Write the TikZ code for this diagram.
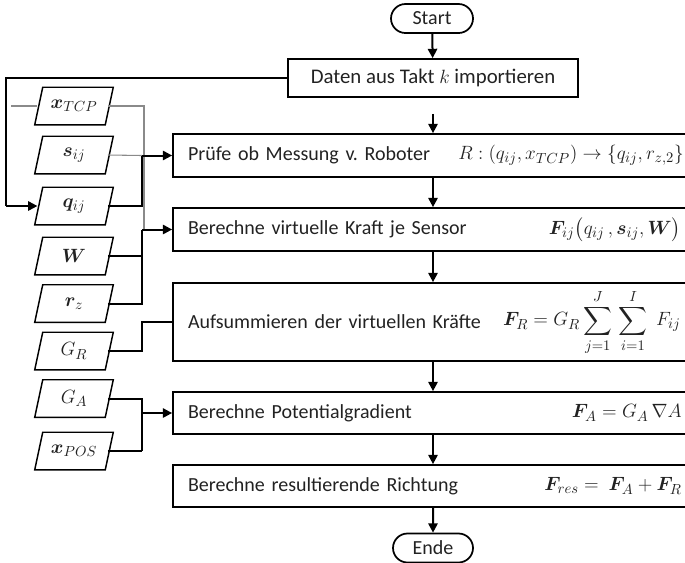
\documentclass[tikz,border=0pt]{standalone}
\usepackage{amsmath,amssymb,bm}
\usepackage[no-math]{fontspec}
\setmainfont{Carlito}
\usetikzlibrary{arrows.meta,shapes.misc}
\definecolor{ink}{HTML}{222222}
\definecolor{wire}{HTML}{8A8A8A}
\frenchspacing
% slanted outline around an input node
\newcommand\slantbox[1]{%
  \draw[line width=1.1pt] ([xshift=-3pt]#1.south west) -- ([xshift=3pt]#1.north west)
    -- ([xshift=3pt]#1.north east) -- ([xshift=-3pt]#1.south east) -- cycle;}
\begin{document}
\begin{tikzpicture}[x=0.75pt,y=-0.75pt,
  font=\fontsize{15}{18}\selectfont, text=ink,
  stepbox/.style={draw, line width=1.3pt, inner xsep=11.25pt,
    text width=365.25pt, align=left, anchor=center},
  term/.style={draw, line width=1.3pt, rounded rectangle,
    minimum height=21.75pt, inner sep=0pt},
  inbox/.style={minimum width=52.5pt, minimum height=27.75pt, inner sep=0pt},
  flow/.style={line width=1.5pt, -{Triangle[length=7pt,width=7pt]}},
  bus/.style={line width=1.5pt},
  busarrow/.style={line width=1.5pt, -{Triangle[length=7pt,width=7pt]}},
  thin/.style={line width=0.8pt, draw=wire}]
\useasboundingbox (0,0) rectangle (685,562);
\clip (0,0) rectangle (685,562);

% terminals and process steps
\node[term, minimum width=61.5pt] (start) at (432,18.5) {Start};
\node[draw, line width=1.3pt, minimum width=217.5pt, minimum height=28.5pt,
  font=\fontsize{15.6}{18}\selectfont] (daten) at (433,78) {Daten aus Takt $k$ importieren};
\node[stepbox, minimum height=32.25pt] (pruefe) at (431.5,155.5) {Prüfe ob Messung v. Roboter};
\node[stepbox, minimum height=32.25pt] (kraft) at (431.5,229.5) {Berechne virtuelle Kraft je Sensor};
\node[stepbox, minimum height=58.5pt] (summe) at (431.5,322) {Aufsummieren der virtuellen Kräfte};
\node[stepbox, minimum height=31.5pt] (potential) at (431.5,413) {Berechne Potentialgradient};
\node[stepbox, minimum height=31.5pt] (richtung) at (431.5,486) {Berechne resultierende Richtung};
\node[term, minimum width=60pt] (ende) at (433,548) {Ende};

% formulas inside the steps
\node[anchor=west, inner sep=0pt] (f1) at (458,155.5) {$R:\left(q_{ij},x_{TCP}\right)\rightarrow\{q_{ij},r_{z,2}\}$};
\node[anchor=east, inner sep=0pt] (f2) at (681,229.5) {$\bm{F}_{ij}\bigl(q_{ij}\,,\bm{s}_{ij},\bm{W}\bigr)$};
\node[anchor=east, inner sep=0pt] (f3) at (681,322) {$\displaystyle \bm{F}_R=G_R\sum_{j=1}^{J}\,\sum_{i=1}^{I}\;F_{ij}$};
\node[anchor=east, inner sep=0pt] (f4) at (682,413) {$\bm{F}_A=G_A\,\nabla A$};
\node[anchor=east, inner sep=0pt] (f5) at (682,486) {$\bm{F}_{res}=\ \bm{F}_A+\bm{F}_R$};

% input parameters
\node[inbox] (xtcp) at (74,106) {$\bm{x}_{TCP}$};
\node[inbox] (sij) at (74,155) {$\bm{s}_{ij}$};
\node[inbox] (qij) at (74,206) {$\bm{q}_{ij}$};
\node[inbox] (w) at (74,256) {$\bm{W}$};
\node[inbox] (rz) at (74,303.5) {$\bm{r}_z$};
\node[inbox] (gr) at (74,351) {$G_R$};
\node[inbox] (ga) at (74,398.5) {$G_A$};
\node[inbox] (xpos) at (74,451) {$\bm{x}_{POS}$};
\foreach \n in {xtcp,sij,qij,w,rz,gr,ga,xpos} {\slantbox{\n}}

% main flow
\draw[flow] (start) -- (daten);
\draw[flow, shorten <=12pt] (daten.south -| pruefe) ++(1.5,0) coordinate (d1) (d1) -- (d1 |- pruefe.north);
\draw[flow] (pruefe.south -| d1) -- (kraft.north -| d1);
\draw[flow] (kraft.south -| d1) -- (summe.north -| d1);
\draw[flow] (summe.south -| d1) -- (potential.north -| d1);
\draw[flow] (potential.south -| d1) -- (richtung.north -| d1);
\draw[flow] (richtung.south -| d1) -- (ende);

% feedback of the imported data
\coordinate (fbtop) at (6,78);
\coordinate (fbbot) at (6,206);
\draw[bus] (daten.west) -- (fbtop) -- (fbbot);
\draw[busarrow] (fbbot) -- ([xshift=-1pt]qij.west);
\coordinate (tcpin) at (11,106);
\draw[thin] (tcpin) -- ([xshift=-1pt]xtcp.west);

% input wiring
\coordinate (tcpturn) at (144,106);
\coordinate (tcpend) at (144,229.5);
\draw[thin] ([xshift=-1pt]xtcp.east) -- (tcpturn) -- (tcpend);
\coordinate (b1) at (142,155.5);
\coordinate (b1q) at (142,206);
\draw[thin] ([xshift=-1pt]sij.east) -- (b1);
\draw[bus] ([xshift=-1pt]qij.east) -- (b1q) -- (b1);
\draw[busarrow] (b1) -- (pruefe.west);

\coordinate (b2) at (142,229.5);
\coordinate (b2w) at (142,256);
\coordinate (b2r) at (142,303.5);
\draw[bus] ([xshift=-1pt]w.east) -- (b2w);
\draw[bus] ([xshift=-1pt]rz.east) -- (b2r) -- (b2);
\draw[busarrow] (b2) -- (kraft.west);

\coordinate (b3) at (142,322);
\coordinate (b3g) at (142,351);
\draw[bus] ([xshift=-1pt]gr.east) -- (b3g) -- (b3) -- (summe.west);

\coordinate (b4) at (142,413);
\coordinate (b4g) at (142,398.5);
\coordinate (b4x) at (142,451);
\draw[bus] ([xshift=-1pt]ga.east) -- (b4g) -- (b4x);
\draw[bus] ([xshift=-1pt]xpos.east) -- (b4x);
\draw[busarrow] (b4) -- (potential.west);
\end{tikzpicture}
\end{document}
